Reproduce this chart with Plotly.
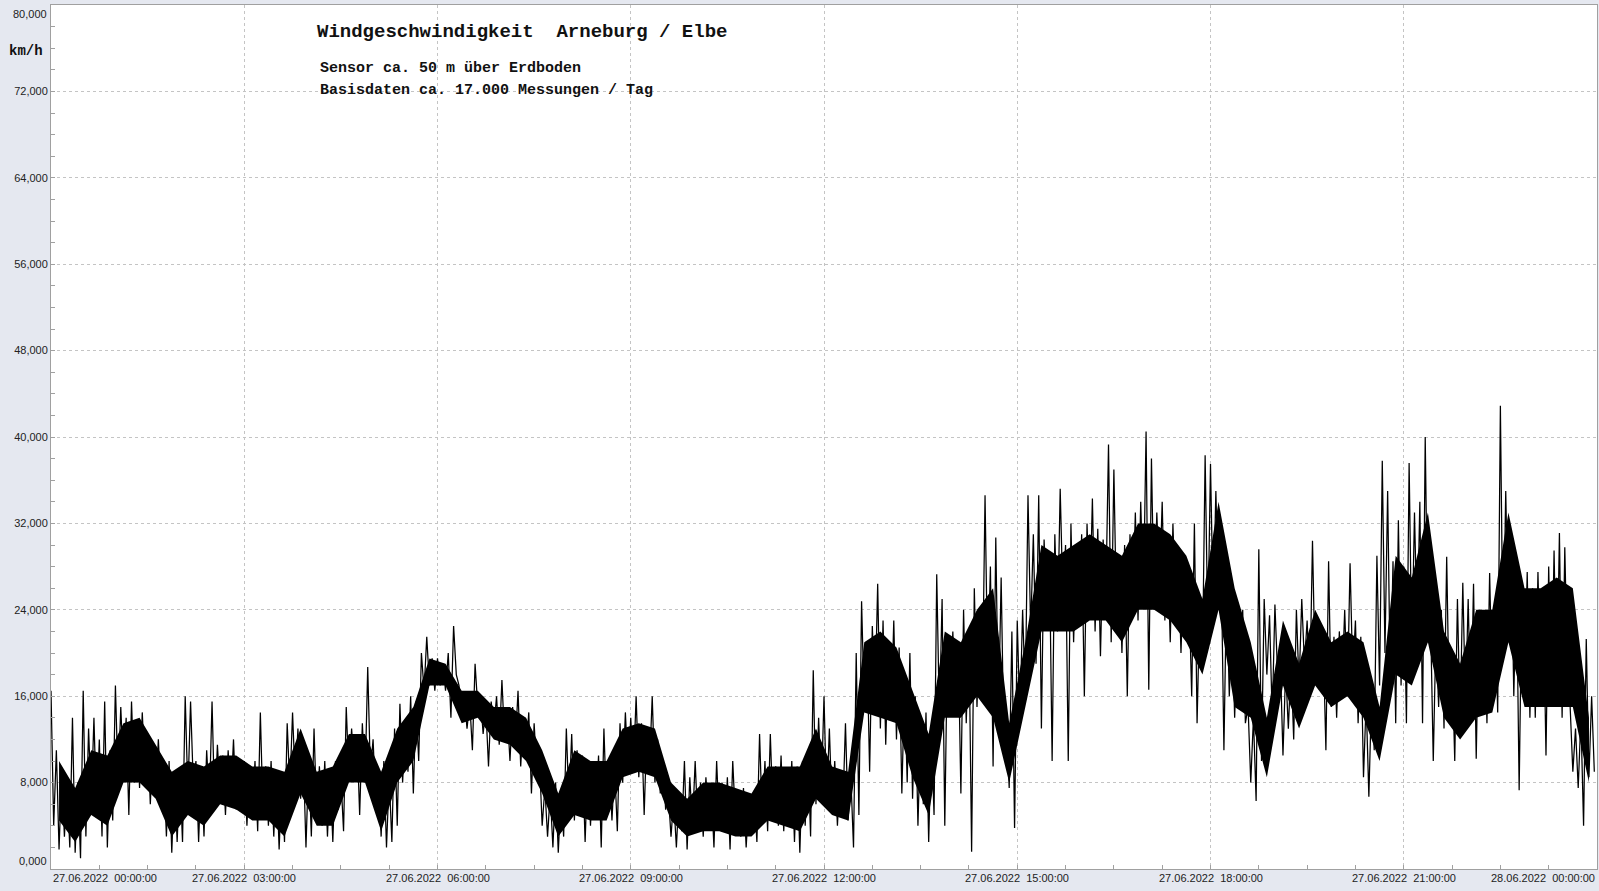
import pandas as pd
import plotly.graph_objects as go

# ---- data: wind speed (km/h), 27.06.2022 ----
start = "2022-06-27 00:00:00"
end = "2022-06-28 00:00:00"

# 5-minute maximum / minimum (outer spikes of the trace)
hi_5min = [
    16.5, 11, 9, 8, 14, 8, 16.5, 13, 14, 12, 15.5, 11,            # 00h
    17, 15, 14, 15.5, 13.5, 14.5, 12.5, 11.5, 12, 9.5, 10, 8.5,   # 01h
    9, 16, 15.5, 10, 9.5, 11, 15.5, 11.5, 10.5, 11, 12, 10,       # 02h
    10, 9.5, 10, 14.5, 9.5, 10, 9, 8.5, 13.5, 14.5, 13, 10.5,     # 03h
    10, 13, 9.5, 10, 9, 10, 8.5, 15, 13, 12.5, 13.5, 18.7,        # 04h
    12, 9, 10, 8.5, 13, 15.3, 13.5, 16, 15.5, 20, 21.5, 19.5,     # 05h
    19.5, 19, 20, 22.5, 17, 16, 15.5, 19, 16, 15, 15.5, 16,       # 06h
    17.5, 14.5, 15, 16.5, 14, 14.5, 13.5, 10, 7.5, 7, 8, 7,       # 07h
    13, 12.5, 11, 10.5, 10, 9.5, 10.5, 13, 10, 9.5, 13.5, 14.5,   # 08h
    14, 16, 13.5, 13, 16, 12, 10, 7, 6.5, 7, 10, 8.5,             # 09h
    10, 8, 8.5, 7.5, 10, 8, 8.5, 10, 7, 7.5, 6.5, 7,              # 10h
    12.5, 10, 12.5, 9.5, 10.5, 9, 10, 9.5, 10, 11, 18.4, 14,      # 11h
    16, 13, 10, 9, 13.5, 8.5, 20, 24.8, 21, 22.5, 26.4, 23,       # 12h
    21, 23, 20.5, 17, 20, 16, 13, 14.5, 12.5, 27.3, 25, 21,       # 13h
    22, 21, 24, 22, 26, 23.5, 34.6, 28, 30.7, 27, 13.5, 22,       # 14h
    23, 24, 34.6, 31, 34.6, 30.5, 29, 31, 35.2, 30, 32, 30,       # 15h
    31, 32, 34.3, 31.5, 30.5, 39.3, 37, 29, 30, 31, 33, 34,       # 16h
    40.5, 38, 33, 34, 30, 32, 29, 28, 25.5, 32, 24.5, 38.3,       # 17h
    37.5, 35, 28, 26.5, 23, 22, 24, 15, 14, 29.6, 25, 23.5,       # 18h
    24.5, 19.5, 18.5, 19, 24, 25, 23, 30.4, 22, 21, 28.5, 21.5,   # 19h
    22, 24, 28.3, 23, 21.5, 15.5, 16, 29, 37.8, 35, 28.5, 32.3,   # 20h
    28, 37.6, 33, 34, 40, 23, 22, 24, 28.9, 19.5, 25, 26.5,       # 21h
    25, 26.4, 24, 23.5, 27.4, 25, 42.9, 35, 31, 27, 26, 27.5,     # 22h
    26, 27.5, 25, 28, 29.5, 31.1, 29.8, 15, 13, 14, 21.3, 16,     # 23h
]
lo_5min = [
    4, 1.8, 3, 2, 1.5, 1, 3, 6, 5, 3, 2, 4.5,                     # 00h
    8, 9, 5, 8, 7.5, 9, 6, 7, 6.5, 3, 1.5, 2.5,                   # 01h
    2.5, 7, 8, 2.5, 3, 6, 5.5, 7, 5, 6.5, 5.5, 6,                 # 02h
    4, 5, 3.5, 5, 4, 3, 1.8, 2.5, 7.5, 8, 6.5, 2,                 # 03h
    3, 5, 4, 3, 2.5, 5.5, 3.5, 8.5, 9, 5, 8, 9,                   # 04h
    6, 3, 2, 2.5, 4, 8, 9, 7, 10, 16.5, 17, 16.5,                 # 05h
    17, 16.5, 14, 18, 14, 13, 11, 15, 12.5, 9.5, 13, 11.5,        # 06h
    12, 10, 11.5, 9.5, 10.5, 7, 9, 4, 3, 2, 1.5, 3,               # 07h
    6, 4.5, 5, 2.5, 4, 5, 2, 5.5, 4.5, 3.5, 8, 9,                 # 08h
    9, 8.5, 5, 9.5, 8, 7, 5.5, 3, 2, 3.5, 1.8, 4,                 # 09h
    4, 3, 5, 2, 4, 3.5, 1.8, 4.5, 3, 2, 3.5, 2.5,                 # 10h
    4.5, 3.5, 5, 4, 3.5, 5, 2.5, 1.5, 4, 3, 6, 7,                 # 11h
    6, 5.5, 4, 5.5, 4.5, 2, 5, 15, 9, 15.5, 13, 11.5,             # 12h
    14, 12, 7, 8, 6.5, 4, 6, 2.5, 5, 14, 4, 15,                   # 13h
    15, 7, 13.5, 1.6, 15, 16, 18, 9.5, 14, 12, 7.5, 3.8,          # 14h
    14, 16, 22, 19, 13, 24, 10, 22, 25, 10, 21, 23,               # 15h
    16, 24, 22, 19.7, 25, 21, 23, 20, 16, 24, 23, 25,             # 16h
    16.6, 24, 26, 23, 21, 24, 20, 22, 16, 13.5, 19, 22,           # 17h
    24, 25, 11, 16, 14, 15.5, 13.5, 8, 6.3, 10, 18, 14,           # 18h
    18, 10.5, 13, 12, 17, 19, 16.6, 18, 17, 11, 15, 14,           # 19h
    17, 16, 18, 13.5, 8.5, 6.7, 11, 17, 20, 16.6, 13.5, 17,       # 20h
    13.5, 20, 22, 13.5, 21, 10, 15, 13, 14, 10, 13.5, 15,         # 21h
    14, 10.2, 15, 13.5, 16, 14.5, 20, 22, 16, 7.3, 17, 14,        # 22h
    14, 17, 10.5, 15, 16, 14, 18, 9, 7.5, 4, 8.5, 9,              # 23h
]

# 15-minute dense core of the trace (upper / lower edge of the black mass)
core_up_15min = [
    10, 7.5, 11, 10.5,  13.5, 14, 11.5, 9,  10, 9.5, 10.5, 10.5,  9.5, 9.5, 9, 13,
    9, 9.5, 12.5, 12.5,  9, 13, 15, 19.5,  19, 16.5, 16.5, 15,  15, 14, 11, 7,
    11, 10, 10, 13,  13.5, 13, 8, 6.5,  8, 8, 7.5, 7,  9.5, 9.5, 9.5, 13,
    9.5, 9, 21, 22,  20.5, 16.5, 12.5, 22,  21, 24, 26, 13.5,  21, 30, 29, 30,
    31, 30, 29, 32,  32, 31, 29, 25,  34, 26, 21, 14,  23, 19, 24, 21,
    22, 21, 15, 29,  27, 33, 22, 19,  24, 24, 33, 26,  26, 27, 26, 14,
]
core_lo_15min = [
    4.5, 2.5, 5, 4,  8, 8, 6.5, 3,  5, 4, 6, 5.5,  4.5, 4.5, 3, 7,
    4, 4, 8, 8,  3.5, 8, 10, 17,  17, 13.5, 14, 12,  11.5, 10, 7, 3,
    5, 4.5, 4.5, 8.5,  9, 8.5, 4.5, 3,  3.5, 3.5, 3, 3,  4.5, 4, 3.5, 6.5,
    5, 4.5, 14.5, 14,  13.5, 8.5, 5, 14,  14, 16, 14, 8,  15, 22, 22, 22,
    23, 23, 21, 24,  24, 23, 21, 18,  24, 15, 14, 8.5,  17, 13, 17, 15,
    16, 14, 10, 18,  17, 21, 14, 12,  14, 14.5, 21, 15,  15, 15, 15, 8,
]

y_tick_values = [8, 16, 24, 32, 40, 48, 56, 64, 72]
y_edge_values = [0, 80]

title_text = "Windgeschwindigkeit\u00a0\u00a0Arneburg / Elbe"
sub1_text = "Sensor ca. 50 m über Erdboden"
sub2_text = "Basisdaten ca. 17.000 Messungen / Tag"
unit_text = "km/h"

# ---- build the traces ----
bins = pd.date_range(start, periods=len(hi_5min), freq="5min")
xs, ys = [], []
for t, h, l in zip(bins, hi_5min, lo_5min):
    xs += [t, t + pd.Timedelta(seconds=150)]
    ys += [h, l]

core_t = pd.date_range(pd.Timestamp(start) + pd.Timedelta(minutes=7.5),
                       periods=len(core_up_15min), freq="15min")


def de_num(v):
    return f"{v:.3f}".replace(".", ",")


AX = "#A0A0A0"
GRID = "#C4C4C4"
LBL = dict(family="Liberation Sans, Arial, sans-serif", size=11, color="#222222")
MONO = "Liberation Mono, Courier New, monospace"

fig = go.Figure()
fig.add_trace(go.Scatter(x=core_t, y=core_up_15min, mode="lines",
                         line=dict(color="black", width=0),
                         hoverinfo="skip", showlegend=False))
fig.add_trace(go.Scatter(x=core_t, y=core_lo_15min, mode="lines",
                         line=dict(color="black", width=0), fill="tonexty",
                         fillcolor="black", hoverinfo="skip", showlegend=False))
fig.add_trace(go.Scatter(x=xs, y=ys, mode="lines",
                         line=dict(color="black", width=1.25),
                         hoverinfo="skip", showlegend=False))

t0 = pd.Timestamp(start)
t1 = pd.Timestamp(end)

fig.update_xaxes(
    type="date", range=[t0, t1], showline=True, linecolor=AX, linewidth=1,
    mirror=True, showgrid=True, gridcolor=GRID, griddash="3px,3px", gridwidth=1,
    tick0=t0, dtick=3 * 3600 * 1000, ticks="inside", ticklen=4, tickcolor=AX,
    showticklabels=False, zeroline=False,
    minor=dict(tick0=t0, dtick=45 * 60 * 1000, ticks="inside", ticklen=4,
               tickcolor=AX, showgrid=False),
)
fig.update_yaxes(
    range=[0, 80], showline=True, linecolor=AX, linewidth=1, mirror=True,
    showgrid=True, gridcolor=GRID, griddash="3px,3px", gridwidth=1,
    tickmode="array", tickvals=y_tick_values,
    ticktext=[de_num(v) for v in y_tick_values],
    ticks="inside", ticklen=4, tickcolor=AX, tickfont=LBL, zeroline=False,
    minor=dict(tickmode="linear", tick0=0, dtick=2, ticks="inside", ticklen=4,
               tickcolor=AX, showgrid=False),
)

ann = []
label_times = pd.date_range(t0, t1, freq="3h")
for i, t in enumerate(label_times):
    txt = t.strftime("%d.%m.%Y") + "\u00a0\u00a0" + t.strftime("%H:%M:%S")
    anchor = "center"
    if i == 0:
        anchor = "left"
    elif i == len(label_times) - 1:
        anchor = "right"
    ann.append(dict(x=t, y=0, xref="x", yref="paper", text=txt, showarrow=False,
                    xanchor=anchor, yanchor="top", yshift=-1, font=LBL))
for v in y_edge_values:
    ann.append(dict(x=0, y=v, xref="paper", yref="y", text=de_num(v), showarrow=False,
                    xanchor="right", yanchor="top" if v == 80 else "bottom",
                    xshift=-2, yshift=-1 if v == 80 else 0, font=LBL))
ann.append(dict(x=-0.0162, y=0.9468, xref="paper", yref="paper", text=f"<b>{unit_text}</b>",
                showarrow=False, xanchor="center", yanchor="middle",
                font=dict(family=MONO, size=14, color="#111111")))
ann.append(dict(x=0.1705, y=0.9688, xref="paper", yref="paper", text=f"<b>{title_text}</b>",
                showarrow=False, xanchor="left", yanchor="middle",
                font=dict(family=MONO, size=19, color="#111111")))
ann.append(dict(x=0.173, y=0.926, xref="paper", yref="paper", text=f"<b>{sub1_text}</b>",
                showarrow=False, xanchor="left", yanchor="middle",
                font=dict(family=MONO, size=15, color="#111111")))
ann.append(dict(x=0.173, y=0.9015, xref="paper", yref="paper", text=f"<b>{sub2_text}</b>",
                showarrow=False, xanchor="left", yanchor="middle",
                font=dict(family=MONO, size=15, color="#111111")))

fig.update_layout(
    width=1599, height=891,
    margin=dict(l=51, r=2, t=5, b=22, pad=0),
    paper_bgcolor="#E5E8F0", plot_bgcolor="white",
    separators=",.",
    annotations=ann,
    shapes=[dict(type="rect", xref="paper", yref="paper", x0=0.1662, x1=0.4457,
                 y0=0.8854, y1=0.9954, fillcolor="white", line=dict(width=0),
                 layer="between")],
    showlegend=False,
)

fig.write_html("out.html",
               config={"displayModeBar": False},
               post_script="document.body.style.margin='0px';"
                           "document.body.style.overflow='hidden';")
